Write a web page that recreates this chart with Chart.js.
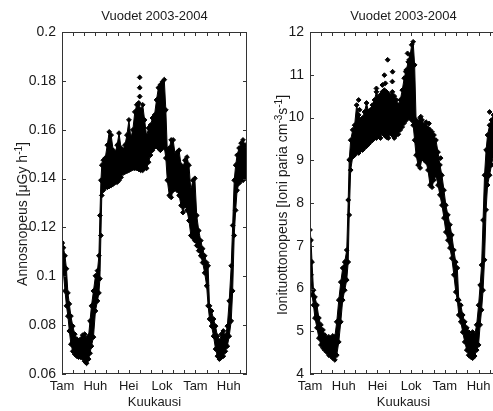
<!DOCTYPE html>
<html>
<head>
<meta charset="utf-8">
<script src="https://cdn.jsdelivr.net/npm/chart.js@4/dist/chart.umd.min.js"></script>
<style>
  html, body { margin: 0; padding: 0; background: #fff; overflow: hidden; }
  #wrap { position: relative; width: 493px; height: 411px; overflow: hidden; }
  canvas { position: absolute; top: 0; }
  #doseChart { left: 0; }
  #ionChart { left: 252px; }
</style>
</head>
<body>
<div id="wrap">
  <canvas id="doseChart" width="252" height="411"></canvas>
  <canvas id="ionChart" width="250" height="411"></canvas>
</div>
<script>
// months counted from the start of January 2003
const monthTicks = [0, 1, 2, 3, 4, 5, 6, 7, 8, 9, 10, 11, 12, 13, 14, 15, 16];
const labelTicks = [0, 3, 6, 9, 12, 15];
const monthLabels = ['Tam', 'Huh', 'Hei', 'Lok', 'Tam', 'Huh'];
const doseTicks = [0.06, 0.08, 0.1, 0.12, 0.14, 0.16, 0.18, 0.2];
const ionTicks = [4, 5, 6, 7, 8, 9, 10, 11, 12];

// dose rate: upper and lower edge of the point cloud
const doseMonth = [0, 0.13, 0.27, 0.40, 0.53, 0.66, 0.80, 0.97, 1.15, 1.33, 1.50, 1.68, 1.86, 2.04, 2.21, 2.39, 2.52, 2.65, 2.83, 3.01,
  3.19, 3.32, 3.41, 3.50, 3.58, 3.72, 3.89, 4.07, 4.25, 4.42, 4.60, 4.78, 4.96, 5.13, 5.31, 5.49, 5.66, 5.84, 6.02, 6.19,
  6.37, 6.55, 6.73, 6.90, 7.08, 7.26, 7.43, 7.61, 7.79, 7.96, 8.14, 8.32, 8.50, 8.67, 8.85, 9.03, 9.20, 9.34, 9.47, 9.65,
  9.82, 10.00, 10.18, 10.35, 10.53, 10.71, 10.88, 11.06, 11.24, 11.42, 11.59, 11.77, 11.95, 12.12, 12.30, 12.48, 12.65, 12.83, 13.01, 13.14,
  13.27, 13.45, 13.63, 13.81, 13.98, 14.16, 14.34, 14.51, 14.69, 14.87, 15.04, 15.22, 15.35, 15.49, 15.62, 15.75, 15.93, 16.11, 16.28, 16.46, 16.64];
const doseHigh = [0.1134, 0.1117, 0.1084, 0.1031, 0.0932, 0.0887, 0.0837, 0.0796, 0.0763, 0.0743, 0.0735, 0.0743, 0.0759, 0.0763, 0.0743, 0.0755, 0.0817, 0.0879, 0.0940, 0.1002,
  0.1023, 0.1084, 0.1249, 0.1393, 0.1455, 0.1475, 0.1484, 0.1537, 0.1591, 0.1578, 0.1516, 0.1504, 0.1537, 0.1586, 0.1525, 0.1516, 0.1537, 0.1578, 0.1640, 0.1566,
  0.1599, 0.1673, 0.1702, 0.1710, 0.1681, 0.1702, 0.1640, 0.1574, 0.1607, 0.1619, 0.1648, 0.1660, 0.1722, 0.1772, 0.1784, 0.1796, 0.1805, 0.1681, 0.1516, 0.1525,
  0.1558, 0.1558, 0.1496, 0.1508, 0.1516, 0.1455, 0.1447, 0.1475, 0.1488, 0.1455, 0.1352, 0.1393, 0.1401, 0.1249, 0.1187, 0.1146, 0.1113, 0.1084, 0.1056, 0.1043,
  0.0879, 0.0858, 0.0825, 0.0796, 0.0755, 0.0735, 0.0763, 0.0776, 0.0755, 0.0796, 0.0899, 0.1043, 0.1208, 0.1393, 0.1455, 0.1496, 0.1525, 0.1545, 0.1558, 0.1537, 0.1516];
const doseLow = [0.1056, 0.1014, 0.0940, 0.0879, 0.0837, 0.0776, 0.0722, 0.0693, 0.0681, 0.0673, 0.0669, 0.0669, 0.0665, 0.0652, 0.0644, 0.0661, 0.0685, 0.0714, 0.0751, 0.0858,
  0.0899, 0.0932, 0.0990, 0.1167, 0.1331, 0.1352, 0.1364, 0.1364, 0.1368, 0.1372, 0.1377, 0.1385, 0.1385, 0.1393, 0.1405, 0.1422, 0.1426, 0.1430, 0.1434, 0.1438,
  0.1442, 0.1442, 0.1442, 0.1438, 0.1434, 0.1434, 0.1442, 0.1442, 0.1467, 0.1496, 0.1516, 0.1529, 0.1533, 0.1525, 0.1516, 0.1525, 0.1529, 0.1484, 0.1393, 0.1331,
  0.1323, 0.1352, 0.1360, 0.1352, 0.1331, 0.1290, 0.1261, 0.1290, 0.1270, 0.1228, 0.1167, 0.1158, 0.1146, 0.1126, 0.1105, 0.1084, 0.1056, 0.1014, 0.0961, 0.0879,
  0.0825, 0.0796, 0.0755, 0.0702, 0.0673, 0.0661, 0.0669, 0.0673, 0.0693, 0.0714, 0.0755, 0.0817, 0.0940, 0.1167, 0.1270, 0.1352, 0.1381, 0.1393, 0.1393, 0.1401, 0.1401];
const doseSpikeMonth = [0, 6.99, 6.99, 6.99];
const doseSpikeValue = [0.1139, 0.1814, 0.1772, 0.1736];

// ionisation rate: upper and lower edge of the point cloud
const ionMonth = [0, 0.09, 0.18, 0.31, 0.44, 0.62, 0.79, 0.97, 1.15, 1.32, 1.50, 1.68, 1.85, 2.03, 2.21, 2.38, 2.56, 2.74, 2.91, 3.09,
  3.27, 3.40, 3.49, 3.62, 3.80, 3.97, 4.15, 4.33, 4.50, 4.68, 4.85, 5.03, 5.21, 5.38, 5.56, 5.74, 5.91, 6.09, 6.27, 6.44,
  6.62, 6.80, 6.97, 7.15, 7.33, 7.50, 7.68, 7.86, 8.03, 8.21, 8.38, 8.56, 8.74, 8.91, 9.05, 9.18, 9.31, 9.44, 9.62, 9.80,
  9.97, 10.15, 10.33, 10.50, 10.68, 10.86, 11.03, 11.21, 11.39, 11.56, 11.74, 11.92, 12.09, 12.27, 12.45, 12.62, 12.80, 12.97, 13.11, 13.24,
  13.42, 13.59, 13.77, 13.95, 14.12, 14.30, 14.47, 14.65, 14.83, 15.00, 15.14, 15.27, 15.40, 15.53, 15.67, 15.80, 15.98, 16.15, 16.33];
const ionHigh = [7.37, 7.13, 6.62, 5.96, 5.80, 5.61, 5.31, 5.15, 5.03, 4.91, 4.84, 4.87, 4.84, 4.89, 4.87, 5.22, 5.73, 6.15, 6.48, 6.62,
  6.90, 8.07, 9.01, 9.47, 9.71, 9.82, 10.29, 10.06, 9.94, 9.99, 10.13, 10.34, 10.13, 10.18, 10.29, 10.41, 10.60, 10.46, 10.53, 10.60,
  10.64, 10.60, 10.55, 10.50, 10.60, 10.50, 10.41, 10.29, 10.41, 10.64, 10.92, 11.11, 11.30, 11.46, 11.70, 11.77, 11.23, 9.94, 9.89, 9.99,
  9.94, 9.82, 9.89, 9.75, 9.71, 9.66, 9.59, 9.47, 9.19, 8.89, 8.65, 8.30, 7.95, 7.72, 7.49, 7.25, 6.90, 6.62, 6.48, 5.73,
  5.61, 5.38, 5.22, 5.08, 4.98, 4.91, 4.98, 4.91, 5.15, 5.61, 6.08, 6.55, 7.60, 8.65, 9.24, 9.59, 9.82, 9.94, 10.06];
const ionLow = [6.62, 6.32, 5.85, 5.61, 5.31, 5.08, 4.84, 4.68, 4.61, 4.56, 4.51, 4.44, 4.42, 4.37, 4.33, 4.44, 4.75, 5.22, 5.73, 5.96,
  6.20, 6.62, 7.72, 8.77, 9.08, 9.12, 9.19, 9.17, 9.24, 9.24, 9.29, 9.33, 9.38, 9.43, 9.47, 9.52, 9.52, 9.59, 9.52, 9.66,
  9.59, 9.54, 9.52, 9.64, 9.59, 9.52, 9.59, 9.61, 9.71, 9.78, 9.87, 9.94, 9.99, 9.99, 9.94, 9.82, 9.47, 9.12, 8.89, 8.82,
  9.05, 9.01, 8.96, 8.77, 8.42, 8.37, 8.54, 8.65, 8.42, 8.19, 7.95, 7.65, 7.32, 7.13, 6.95, 6.71, 6.32, 5.92, 5.73, 5.38,
  5.22, 4.98, 4.75, 4.56, 4.44, 4.40, 4.37, 4.42, 4.56, 4.68, 5.15, 5.50, 5.96, 6.67, 7.84, 8.42, 8.65, 8.89, 9.12];
const ionSpikeMonth = [4.33, 4.41, 5.91, 6.44, 6.62, 6.71, 6.91, 7.33, 7.35, 8.53, 8.68, 8.83, 9.86, 10.59, 11.62, 15.98];
const ionSpikeValue = [10.41, 10.18, 10.68, 10.76, 10.99, 10.80, 11.35, 10.84, 11.07, 11.07, 11.50, 11.35, 10.02, 9.86, 9.05, 10.13];

Chart.defaults.font.family = '"Liberation Sans", Arial, Helvetica, sans-serif';
Chart.defaults.color = '#1a1a1a';

function points(months, values) {
  return months.map((m, i) => ({ x: m, y: values[i] }));
}

const markStyle = {
  borderColor: '#000',
  borderWidth: 1,
  pointStyle: 'rectRot',
  pointRadius: 2.4,
  pointBackgroundColor: '#000',
  pointBorderColor: '#000',
  pointBorderWidth: 1,
  tension: 0
};

// MATLAB style box with inward ticks on all sides
const boxTicks = {
  id: 'boxTicks',
  afterDraw(chart) {
    const { ctx, chartArea: a, scales: { x, y } } = chart;
    ctx.save();
    ctx.strokeStyle = '#333';
    ctx.lineWidth = 1;
    ctx.strokeRect(a.left + 0.5, a.top + 0.5, a.right - a.left - 1, a.bottom - a.top - 1);
    ctx.beginPath();
    monthTicks.forEach(m => {
      const px = Math.round(x.getPixelForValue(m)) + 0.5;
      ctx.moveTo(px, a.bottom); ctx.lineTo(px, a.bottom - 4);
      ctx.moveTo(px, a.top); ctx.lineTo(px, a.top + 4);
    });
    y.ticks.forEach(t => {
      const py = Math.round(y.getPixelForValue(t.value)) + 0.5;
      ctx.moveTo(a.left, py); ctx.lineTo(a.left + 4, py);
      ctx.moveTo(a.right, py); ctx.lineTo(a.right - 4, py);
    });
    ctx.stroke();
    ctx.restore();
  }
};

// rotated y label with superscripts
function yLabel(parts, bx, cy) {
  return {
    id: 'yLabel',
    afterDraw(chart) {
      const ctx = chart.ctx;
      const fam = Chart.defaults.font.family;
      const fontFor = p => (p.sup ? 10 : 14) + 'px ' + fam;
      ctx.save();
      ctx.translate(bx, cy);
      ctx.rotate(-Math.PI / 2);
      ctx.fillStyle = '#1a1a1a';
      ctx.textBaseline = 'alphabetic';
      ctx.textAlign = 'left';
      let total = 0;
      parts.forEach(p => { ctx.font = fontFor(p); total += ctx.measureText(p.text).width; });
      let pos = -total / 2;
      parts.forEach(p => {
        ctx.font = fontFor(p);
        ctx.fillText(p.text, pos, p.sup ? -5 : 0);
        pos += ctx.measureText(p.text).width;
      });
      ctx.restore();
    }
  };
}

function makeChart(id, cfg) {
  return new Chart(document.getElementById(id), {
    type: 'line',
    data: {
      datasets: [
        Object.assign({ data: points(cfg.months, cfg.low), fill: false }, markStyle),
        Object.assign({ data: points(cfg.months, cfg.high), fill: '-1', backgroundColor: '#000' }, markStyle),
        Object.assign({ data: points(cfg.spikeMonths, cfg.spikeValues), showLine: false }, markStyle)
      ]
    },
    options: {
      responsive: false,
      animation: false,
      devicePixelRatio: 1,
      layout: { padding: { left: 0, right: cfg.padRight, top: 0, bottom: 0 } },
      plugins: {
        legend: { display: false },
        tooltip: { enabled: false },
        title: {
          display: true,
          text: 'Vuodet 2003-2004',
          fullSize: false,
          color: '#1a1a1a',
          font: { size: 13, weight: 'normal' },
          padding: { top: 9, bottom: 7.4 }
        }
      },
      scales: {
        x: {
          type: 'linear',
          min: 0,
          max: 16.64,
          grid: { display: false, drawTicks: false },
          border: { display: false },
          afterBuildTicks: s => { s.ticks = labelTicks.map(v => ({ value: v })); },
          afterFit: s => { s.height = 37; },
          ticks: {
            autoSkip: false, maxRotation: 0, minRotation: 0, padding: 5,
            font: { size: 13 },
            callback: (v, i) => monthLabels[i]
          },
          title: { display: true, text: 'Kuukausi', font: { size: 13 }, padding: { top: 0, bottom: 1 } }
        },
        y: {
          min: cfg.yTicks[0],
          max: cfg.yTicks[cfg.yTicks.length - 1],
          grid: { display: false, drawTicks: false },
          border: { display: false },
          afterBuildTicks: s => { s.ticks = cfg.yTicks.map(v => ({ value: v })); },
          afterFit: s => { s.width = cfg.axisWidth; },
          ticks: { autoSkip: false, padding: 6, font: { size: 14 }, callback: v => String(v) }
        }
      }
    },
    plugins: [boxTicks, yLabel(cfg.label, cfg.labelX, cfg.labelY)]
  });
}

makeChart('doseChart', {
  months: doseMonth, high: doseHigh, low: doseLow,
  spikeMonths: doseSpikeMonth, spikeValues: doseSpikeValue,
  yTicks: doseTicks, axisWidth: 62, padRight: 2,
  label: [{ text: 'Annosnopeus [\u03BCGy h' }, { text: '-1', sup: true }, { text: ']' }],
  labelX: 26.5, labelY: 214
});

makeChart('ionChart', {
  months: ionMonth, high: ionHigh, low: ionLow,
  spikeMonths: ionSpikeMonth, spikeValues: ionSpikeValue,
  yTicks: ionTicks, axisWidth: 58, padRight: 3.5,
  label: [{ text: 'Ionituottonopeus [Ioni paria cm' }, { text: '-3', sup: true }, { text: 's' }, { text: '-1', sup: true }, { text: ']' }],
  labelX: 35, labelY: 205
});
</script>
</body>
</html>
